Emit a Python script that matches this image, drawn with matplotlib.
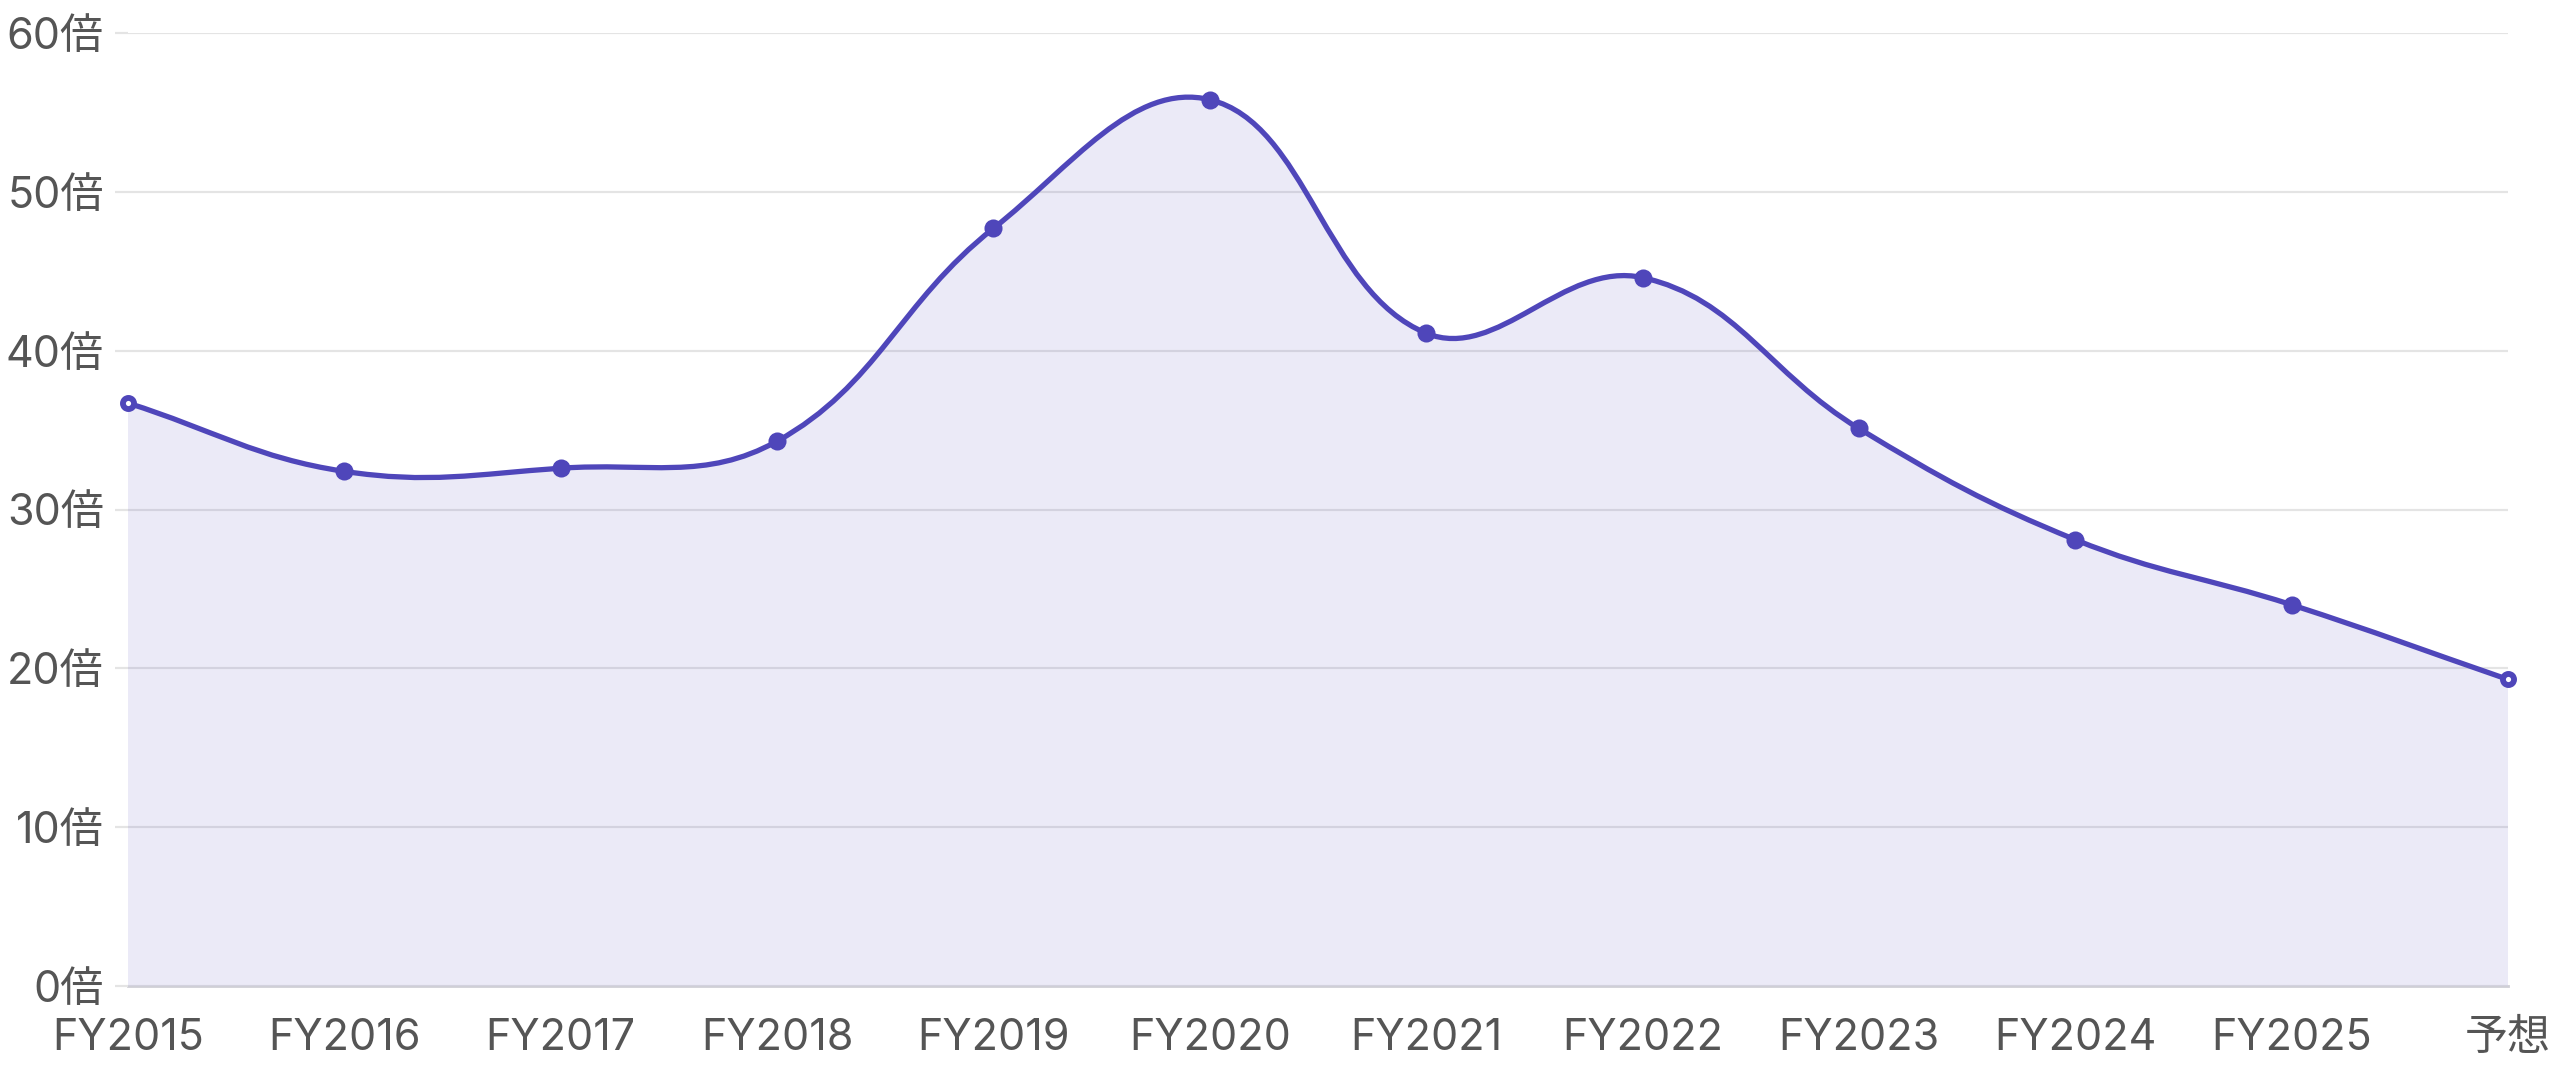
import numpy as np
import matplotlib
matplotlib.use("Agg")
import matplotlib.pyplot as plt
from matplotlib.path import Path
from matplotlib.patches import PathPatch

plt.rcParams['font.family'] = ['Inter', 'Noto Sans CJK JP', 'DejaVu Sans']

categories = ["FY2015", "FY2016", "FY2017", "FY2018", "FY2019", "FY2020",
              "FY2021", "FY2022", "FY2023", "FY2024", "FY2025", "予想"]
values = [36.7, 32.4, 32.6, 34.3, 47.7, 55.8, 41.1, 44.6, 35.1, 28.1, 24.0, 19.3]
yticks = [0, 10, 20, 30, 40, 50, 60]
ytick_labels = [f"{v}倍" for v in yticks]

LINE = "#4f46ba"
GRID = "#e4e4e4"
TEXT = "#555555"

W, H = 2560, 1067
fig = plt.figure(figsize=(W / 100, H / 100), dpi=100)
ax = fig.add_axes([128 / W, (H - 986) / H, (2508 - 128) / W, (986 - 33) / H])

x = np.arange(len(values))
ax.set_xlim(0, len(values) - 1)
ax.set_ylim(0, 60)

# grid and ticks
ax.set_yticks(yticks)
ax.set_yticklabels(ytick_labels)
ax.set_xticks(x)
ax.set_xticklabels(categories)
ax.grid(axis='y', color=GRID, linewidth=1.6, zorder=0)
ax.tick_params(axis='y', length=9.4, width=1.6, color=GRID, pad=8, labelsize=31, labelcolor=TEXT)
ax.tick_params(axis='x', length=0, pad=23, labelsize=31, labelcolor=TEXT)
for s in ax.spines.values():
    s.set_visible(False)
ax.axhline(0, color="#cfcfd6", linewidth=2.0, zorder=1, clip_on=False)

# Chart.js-style spline (tension 0.4) computed in display space
fig.canvas.draw()
pts = ax.transData.transform(np.column_stack([x, values]))
t = 0.4
n = len(pts)
cp_prev = pts.copy()
cp_next = pts.copy()
for i in range(n):
    prev = pts[i - 1] if i > 0 else pts[i]
    cur = pts[i]
    nxt = pts[i + 1] if i < n - 1 else pts[i]
    d01 = np.hypot(*(cur - prev))
    d12 = np.hypot(*(nxt - cur))
    tot = d01 + d12
    s01 = d01 / tot if tot else 0
    s12 = d12 / tot if tot else 0
    fa = t * s01
    fb = t * s12
    cp_prev[i] = cur - fa * (nxt - prev)
    cp_next[i] = cur + fb * (nxt - prev)

verts = [pts[0]]
codes = [Path.MOVETO]
for i in range(n - 1):
    verts += [cp_next[i], cp_prev[i + 1], pts[i + 1]]
    codes += [Path.CURVE4] * 3
inv = ax.transData.inverted()
verts_data = inv.transform(np.array(verts))

line_path = Path(verts_data, codes)
fill_verts = list(verts_data) + [[x[-1], 0], [x[0], 0], verts_data[0]]
fill_codes = codes + [Path.LINETO, Path.LINETO, Path.CLOSEPOLY]
fill_path = Path(fill_verts, fill_codes)

ax.add_patch(PathPatch(fill_path, facecolor=LINE, alpha=0.11, edgecolor='none', zorder=2))
ax.add_patch(PathPatch(line_path, facecolor='none', edgecolor=LINE, linewidth=3.8,
                       zorder=3, clip_on=False, capstyle='round', joinstyle='round'))

# markers
ax.plot(x[1:-1], values[1:-1], 'o', color=LINE, markersize=11.5, markeredgewidth=1.5,
        markeredgecolor=LINE, zorder=4, clip_on=False)
ax.plot([x[0], x[-1]], [values[0], values[-1]], 'o', markerfacecolor='white',
        markeredgecolor=LINE, markersize=8, markeredgewidth=4.2, zorder=4, clip_on=False)

fig.savefig("out.png", dpi=100, facecolor='white')
